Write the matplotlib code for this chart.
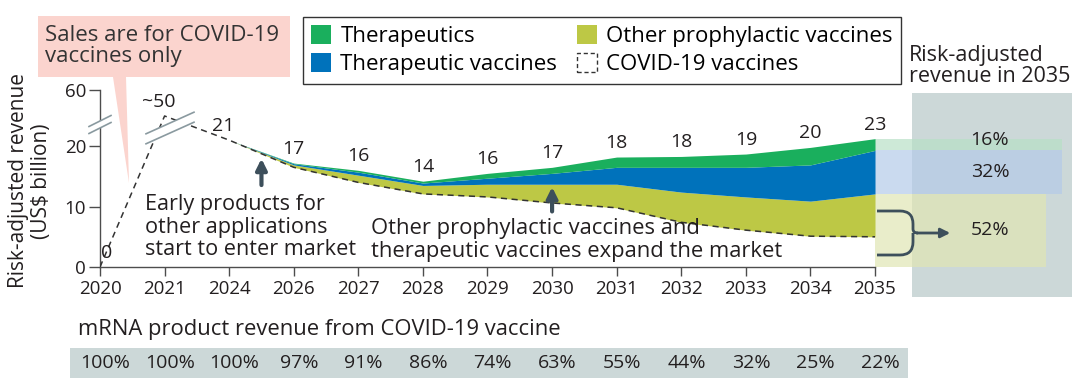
import numpy as np
import matplotlib.pyplot as plt
from matplotlib.patches import Patch, Rectangle, Polygon, PathPatch, FancyArrowPatch
from matplotlib.path import Path
from matplotlib.lines import Line2D
from matplotlib.transforms import blended_transform_factory

plt.rcParams['font.family'] = ['Open Sans', 'DejaVu Sans']

# data (US$ billion)
years = ['2020', '2021', '2024', '2026', '2027', '2028', '2029',
         '2030', '2031', '2032', '2033', '2034', '2035']
covid = [0, 50, 21, 16.5, 14.0, 12.1, 11.6, 10.6, 9.8, 7.4, 6.1, 5.1, 5.0]
other_prophylactic = [0, 0, 0, 0.4, 1.2, 1.4, 2.1, 3.1, 3.9, 5.0, 5.5, 5.8, 7.1]
therapeutic_vaccines = [0, 0, 0, 0.2, 0.5, 0.4, 1.0, 1.8, 2.8, 4.1, 4.9, 6.0, 7.2]
therapeutics = [0, 0, 0, 0.1, 0.3, 0.3, 0.8, 1.0, 1.7, 1.8, 2.2, 2.9, 3.5]
total_labels = ['0', '~50', '21', '17', '16', '14', '16', '17', '18', '18', '19', '20', '23']
covid_share = ['100%', '100%', '100%', '97%', '91%', '86%', '74%',
               '63%', '55%', '44%', '32%', '25%', '22%']
share_2035 = ['16%', '32%', '52%']

GREEN = '#1aaf5d'
BLUE = '#0072bb'
YELLOW = '#bdc845'
DARK = '#231f20'
ARROW = '#3d4f5b'
BOX = '#ccd8d8'

W, H = 1080, 389


def px(x, y):
    # pixel position -> figure fraction
    return (x / W, 1 - y / H)


fig = plt.figure(figsize=(10.8, 3.89), dpi=100)
ax = fig.add_axes([100 / W, 1 - 267 / H, 775 / W, 177 / H])
ax.set_facecolor('none')

# broken y axis: 0-21 linear, everything above squeezed
kv = [-100, 0, 21, 50, 60, 1000]
kp = [-100, 0, 21, 25, 29.3, 29.3 + 940 * 0.43]
ax.set_yscale('function', functions=(lambda v: np.interp(v, kv, kp),
                                     lambda p: np.interp(p, kp, kv)))
ax.set_ylim(0, 60)
ax.set_xlim(0, len(years) - 1)

x = np.arange(len(years))
cv = np.array(covid)
l1 = cv + np.array(other_prophylactic)
l2 = l1 + np.array(therapeutic_vaccines)
l3 = l2 + np.array(therapeutics)
s = slice(2, None)
ax.fill_between(x[s], cv[s], l1[s], color=YELLOW, lw=0, zorder=2)
ax.fill_between(x[s], l1[s], l2[s], color=BLUE, lw=0, zorder=2)
ax.fill_between(x[s], l2[s], l3[s], color=GREEN, lw=0, zorder=2)
ax.plot(x, cv, color='#333333', lw=1.1, ls=(0, (4, 3)), zorder=3)

# value labels
tops = np.maximum(l3, cv)
for i, lab in enumerate(total_labels):
    dx = 7 if i == 0 else (-6 if i < 3 else 0)
    ax.annotate(lab, (x[i], tops[i]), xytext=(dx, 5), textcoords='offset pixels',
                ha='center', va='bottom', fontsize=14, color=DARK)

# ticks / spines
ax.set_xticks(x)
ax.set_xticklabels(years)
ax.set_yticks([0, 10, 20, 60])
ax.tick_params(axis='x', length=6.5, width=1, colors='#4d4d4d', labelcolor=DARK,
               labelsize=13.5, pad=3)
ax.tick_params(axis='y', length=8, width=1, colors='#4d4d4d', labelcolor=DARK,
               labelsize=13.5, pad=2)
for sp in ['top', 'right']:
    ax.spines[sp].set_visible(False)
for sp in ['left', 'bottom']:
    ax.spines[sp].set_color('#4d4d4d')
    ax.spines[sp].set_linewidth(1)

# 2035 breakdown panel
fig.add_artist(Rectangle(px(912, 297), 160 / W, 204 / H, transform=fig.transFigure,
                         color=BOX, lw=0, zorder=-1))
bx = np.array([x[-1], x[-1] + 2.9])
ax.fill_between(bx, l2[-1], l3[-1], color='#b8e0c6', alpha=0.7, lw=0,
                clip_on=False, zorder=1)
ax.fill_between(bx, l1[-1], l2[-1], color='#b4cbe9', alpha=0.7, lw=0,
                clip_on=False, zorder=1)
ax.fill_between(bx - [0, 0.25], 0, l1[-1], color='#e0e6b4', alpha=0.7, lw=0,
                clip_on=False, zorder=1)
band_mid = [(l2[-1] + l3[-1]) / 2, (l1[-1] + l2[-1]) / 2, l1[-1] / 2]
band_tr = blended_transform_factory(fig.transFigure, ax.transData)
for lab, ym in zip(share_2035, band_mid):
    ax.text(990 / W, ym, lab, transform=band_tr, ha='center', va='center',
            fontsize=14, color=DARK, clip_on=False)
fig.text(*px(909, 66), 'Risk-adjusted\nrevenue in 2035', ha='left', va='center',
         fontsize=15.5, color=DARK, linespacing=1.05)

# brace + arrow
verts = [px(877, 211), px(900, 211), px(913, 211), px(913, 224), px(913, 229),
         px(913, 233), px(918, 233),
         px(913, 233), px(913, 237), px(913, 242), px(913, 255), px(900, 255), px(877, 255)]
codes = [Path.MOVETO, Path.LINETO, Path.CURVE3, Path.CURVE3, Path.LINETO,
         Path.CURVE3, Path.CURVE3,
         Path.MOVETO, Path.CURVE3, Path.LINETO, Path.CURVE3, Path.CURVE3, Path.LINETO]
fig.add_artist(PathPatch(Path(verts, codes), transform=fig.transFigure, fill=False,
                         ec=ARROW, lw=2))
fig.add_artist(FancyArrowPatch(px(914, 233), px(953, 233), transform=fig.transFigure,
                               arrowstyle='-|>', mutation_scale=14, color=ARROW, lw=2))

# callouts
ax.annotate('', xy=(2.5, 18.4), xytext=(0, -32), textcoords='offset pixels',
            arrowprops=dict(arrowstyle='-|>', color=ARROW, lw=3, mutation_scale=16))
ax.annotate('', xy=(7, l1[7]), xytext=(0, -30), textcoords='offset pixels',
            arrowprops=dict(arrowstyle='-|>', color=ARROW, lw=3, mutation_scale=16))
fig.text(*px(145, 227), 'Early products for\nother applications\nstart to enter market',
         ha='left', va='center', fontsize=15.6, color=DARK, linespacing=1.12)
fig.text(*px(371, 240), 'Other prophylactic vaccines and\ntherapeutic vaccines expand the market',
         ha='left', va='center', fontsize=15.8, color=DARK, linespacing=1.12)

# pink note
fig.add_artist(Polygon([px(38, 16), px(290, 16), px(290, 77), px(126, 77), px(129, 183),
                        px(113, 77), px(38, 77)], closed=True, transform=fig.transFigure,
                       color='#fbd4ce', lw=0, zorder=1))
fig.text(*px(45, 46), 'Sales are for COVID-19\nvaccines only', ha='left', va='center',
         fontsize=16, color='#333333', linespacing=1.05, zorder=2)

# axis breaks
def brk(cx, cy, half, slope, gap):
    a = px(cx - half, cy + slope * half)
    b = px(cx + half, cy - slope * half)
    c = px(cx + half, cy - slope * half - gap)
    d = px(cx - half, cy + slope * half - gap)
    fig.add_artist(Polygon([a, b, c, d], closed=True, transform=fig.transFigure,
                           color='white', lw=0, zorder=3))
    for p, q in [(a, b), (d, c)]:
        fig.add_artist(Line2D([p[0], q[0]], [p[1], q[1]], transform=fig.transFigure,
                              color='#8a9aa0', lw=1.2, zorder=4))

brk(100, 128, 11, 0.5, 7)
brk(170, 133, 24, 0.45, 10)

fig.text(*px(30, 181), 'Risk-adjusted revenue\n(US$ billion)', rotation=90,
         ha='center', va='center', fontsize=15, color=DARK, linespacing=1.1)

# legend
handles = [Patch(fc=GREEN, ec='none'), Patch(fc=BLUE, ec='none'),
           Patch(fc=YELLOW, ec='none'),
           Patch(fc='none', ec='#333333', ls=(0, (3, 2)), lw=1)]
labels = ['Therapeutics', 'Therapeutic vaccines', 'Other prophylactic vaccines',
          'COVID-19 vaccines']
fig.legend(handles, labels, ncol=2, loc='upper left', bbox_to_anchor=px(303, 17),
           frameon=True, fancybox=False, edgecolor='#333333', framealpha=1,
           borderaxespad=0, handlelength=0.9, handleheight=0.9, handletextpad=0.4,
           columnspacing=0.9, borderpad=0.38, labelspacing=0.27, fontsize=16)

# COVID share strip
fig.add_artist(Rectangle(px(70, 378), 838 / W, 30 / H, transform=fig.transFigure,
                         color=BOX, lw=0, zorder=-1))
fig.text(*px(78, 330), 'mRNA product revenue from COVID-19 vaccine', ha='left',
         va='center', fontsize=15.8, color=DARK)
strip = blended_transform_factory(ax.transData, fig.transFigure)
for i, lab in enumerate(covid_share):
    ax.text(x[i] + 0.08, 1 - 363 / H, lab, transform=strip, ha='center', va='center',
            fontsize=14, color=DARK, clip_on=False)

fig.savefig('out.png', dpi=100)
